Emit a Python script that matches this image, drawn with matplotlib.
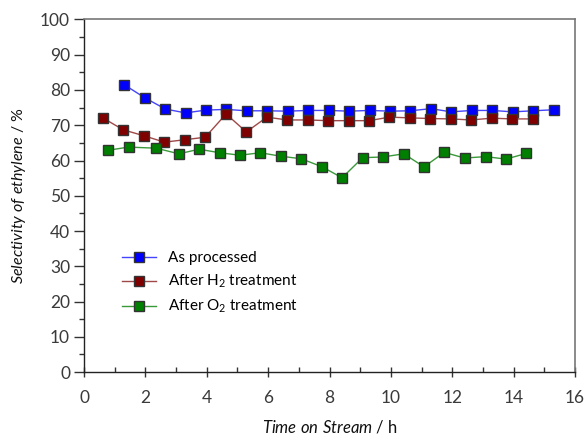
import matplotlib
matplotlib.use("Agg")
import matplotlib.pyplot as plt
from matplotlib.ticker import MultipleLocator

plt.rcParams["font.family"] = ["Lato", "DejaVu Sans"]
plt.rcParams["mathtext.fontset"] = "custom"
plt.rcParams["mathtext.rm"] = "Lato"
plt.rcParams["mathtext.it"] = "Lato:italic"

# Time on stream (h) and ethylene selectivity (%)
t_processed = [1.31, 1.98, 2.65, 3.31, 3.97, 4.64, 5.30, 5.97, 6.64, 7.31, 7.97,
               8.64, 9.31, 9.97, 10.63, 11.30, 11.97, 12.64, 13.30, 13.97, 14.64, 15.31]
sel_processed = [81.5, 77.8, 74.6, 73.5, 74.3, 74.5, 74.1, 74.1, 74.0, 74.2, 74.2,
                 74.0, 74.2, 74.0, 74.1, 74.7, 73.8, 74.2, 74.2, 73.8, 74.1, 74.4]

t_h2 = [0.61, 1.28, 1.96, 2.62, 3.29, 3.95, 4.63, 5.29, 5.96, 6.62, 7.29,
        7.95, 8.62, 9.29, 9.95, 10.62, 11.28, 11.95, 12.61, 13.28, 13.95, 14.62]
sel_h2 = [72.1, 68.7, 67.0, 65.2, 65.9, 66.6, 73.2, 68.1, 72.3, 71.5, 71.5,
          71.3, 71.3, 71.3, 72.3, 72.1, 71.9, 71.8, 71.5, 72.0, 71.8, 71.8]

t_o2 = [0.78, 1.45, 2.35, 3.09, 3.75, 4.42, 5.08, 5.75, 6.42, 7.08, 7.76,
        8.41, 9.08, 9.74, 10.42, 11.08, 11.74, 12.40, 13.09, 13.75, 14.41]
sel_o2 = [62.9, 63.8, 63.5, 61.9, 63.2, 62.2, 61.5, 62.2, 61.2, 60.5, 58.2,
          55.1, 60.8, 61.0, 61.9, 58.2, 62.3, 60.7, 61.1, 60.4, 62.0]

fig = plt.figure(figsize=(5.85, 4.4), dpi=100)
ax = fig.add_axes([0.1436, 0.1545, 0.8393, 0.8012])

marker_kw = dict(marker="s", markersize=7.5, markeredgecolor="#333333", markeredgewidth=1.0)
ax.plot(t_processed, sel_processed, color="#4444ff", lw=1.0, markerfacecolor="#0000ff",
        label="As processed", **marker_kw)
ax.plot(t_h2, sel_h2, color="#a04848", lw=1.0, markerfacecolor="#800000",
        label="After H$_2$ treatment", **marker_kw)
ax.plot(t_o2, sel_o2, color="#3a9a3a", lw=1.0, markerfacecolor="#008000",
        label="After O$_2$ treatment", **marker_kw)

ax.set_xlim(0, 16)
ax.set_ylim(0, 100)
ax.xaxis.set_major_locator(MultipleLocator(2))
ax.xaxis.set_minor_locator(MultipleLocator(1))
ax.yaxis.set_major_locator(MultipleLocator(10))
ax.yaxis.set_minor_locator(MultipleLocator(5))

ax.tick_params(axis="x", which="major", direction="inout", length=7, width=1, colors="#333333",
               labelsize=12.5, pad=9.5)
ax.tick_params(axis="x", which="minor", direction="in", length=3.5, width=1, colors="#333333")
ax.tick_params(axis="y", which="major", direction="out", length=7, width=1, colors="#333333",
               labelsize=12.5, pad=3)
ax.tick_params(axis="y", which="minor", direction="out", length=3.5, width=1, colors="#333333")
for lbl in ax.get_xticklabels() + ax.get_yticklabels():
    lbl.set_color("#3a3a3a")

for side in ["left", "bottom"]:
    ax.spines[side].set_color("#222222")
    ax.spines[side].set_linewidth(1.0)
for side in ["top", "right"]:
    ax.spines[side].set_color("#777777")
    ax.spines[side].set_linewidth(1.2)

ax.set_xlabel(r"$\it{Time\ on\ Stream}$ / h", fontsize=12, color="#111111", labelpad=9)
ax.set_ylabel(r"$\it{Selectivity\ of\ ethylene}$ / %", fontsize=11.5, color="#111111", labelpad=9)

ax.legend(loc="upper left", bbox_to_anchor=(0.065, 0.36), frameon=False, fontsize=11,
          handlelength=2.2, handletextpad=0.8, labelspacing=0.5, borderaxespad=0)

fig.savefig("out.png", dpi=100)
